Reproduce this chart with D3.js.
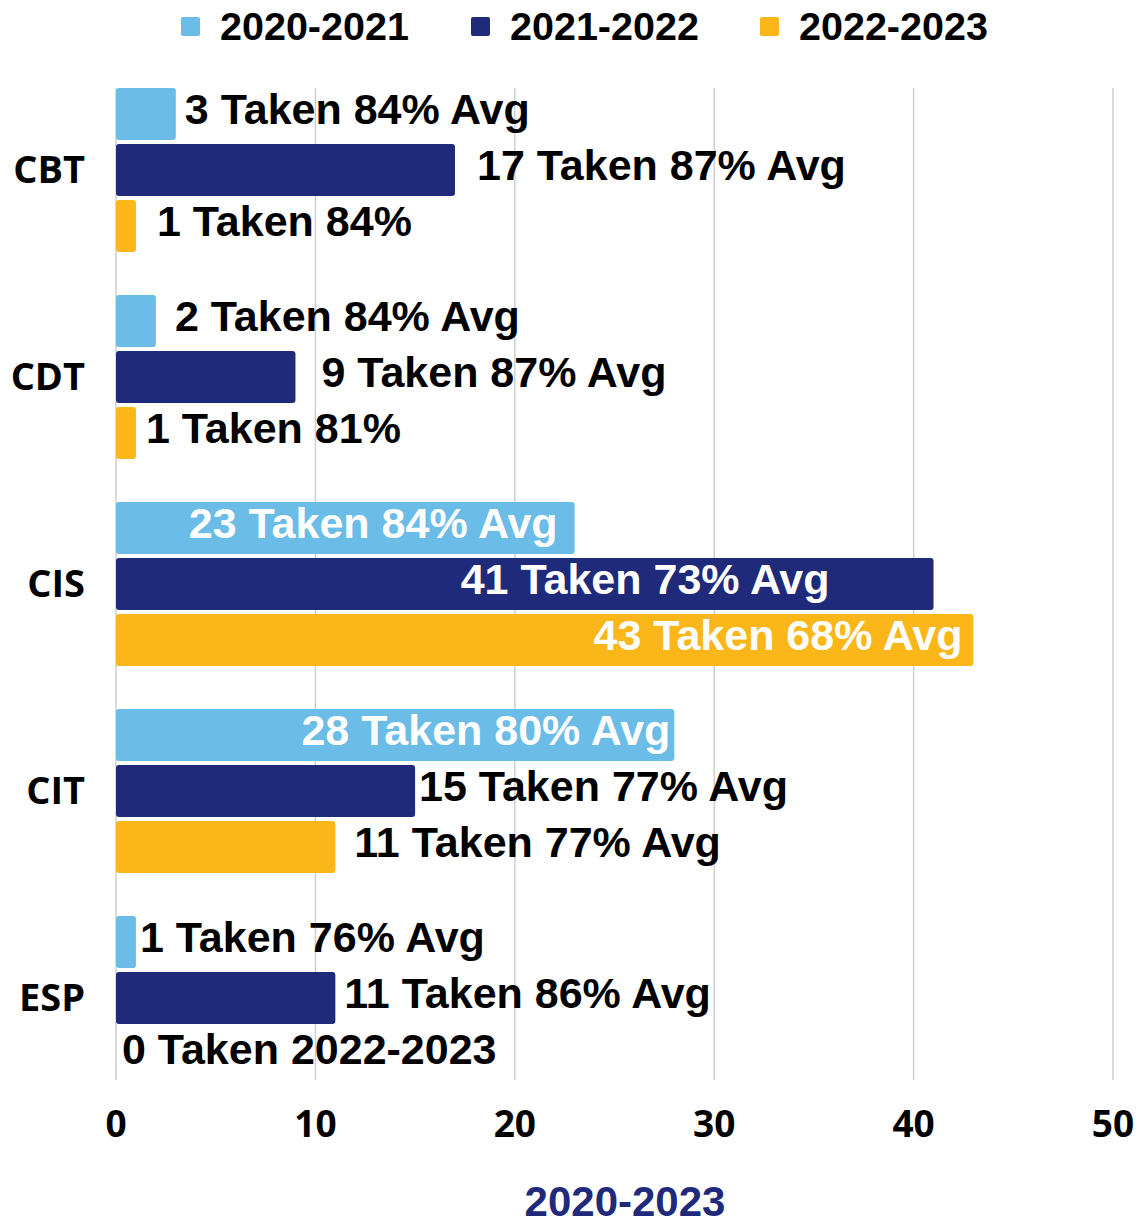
<!DOCTYPE html>
<html>
<head>
<meta charset="utf-8">
<script src="https://cdn.jsdelivr.net/npm/d3@7"></script>
<style>
  body { margin: 0; background: #fff; }
  text { font-family: "Liberation Sans", Arial, sans-serif; font-weight: bold; }
</style>
</head>
<body>
<script>
const categories = ["CBT", "CDT", "CIS", "CIT", "ESP"];
const seriesNames = ["2020-2021", "2021-2022", "2022-2023"];
const taken2020 = [3, 2, 23, 28, 1];
const taken2021 = [17, 9, 41, 15, 11];
const taken2022 = [1, 1, 43, 11, 0];
const labels2020 = ["3 Taken 84% Avg", "2 Taken 84% Avg", "23 Taken 84% Avg", "28 Taken 80% Avg", "1 Taken 76% Avg"];
const labels2021 = ["17 Taken 87% Avg", "9 Taken 87% Avg", "41 Taken 73% Avg", "15 Taken 77% Avg", "11 Taken 86% Avg"];
const labels2022 = ["1 Taken 84%", "1 Taken 81%", "43 Taken 68% Avg", "11 Taken 77% Avg", "0 Taken 2022-2023"];
const xTicks = [0, 10, 20, 30, 40, 50];
const chartTitle = "2020-2023";

const colors = ["#6bbce6", "#1f2a7a", "#fbb71a"];
// label nudges from bar end (negative = inside, right aligned)
const labelDx = [
  [9, 19, -17, -4, 4],
  [22, 26, -104, 4, 9],
  [21, 10, -11, 19, 6]
];

const W = 1139, H = 1224;
const svg = d3.select("body").append("svg").attr("width", W).attr("height", H);

const x = d3.scaleLinear().domain([0, 50]).range([116, 1113]);
const y = d3.scaleBand().domain(categories).range([88, 1080]).paddingInner(0.2077).paddingOuter(0);
const ySub = d3.scaleBand().domain(seriesNames).range([0, y.bandwidth()]).paddingInner(0.0714);

const series = [taken2020, taken2021, taken2022];
const seriesLabels = [labels2020, labels2021, labels2022];

// grid
svg.append("g").selectAll("line").data(xTicks).enter().append("line")
  .attr("x1", d => x(d)).attr("x2", d => x(d))
  .attr("y1", 88).attr("y2", 1080)
  .attr("stroke", "#cfcfcf").attr("stroke-width", 1.5);

// x tick labels
svg.append("g").selectAll("text").data(xTicks).enter().append("text")
  .attr("x", d => x(d)).attr("y", 1137)
  .attr("text-anchor", "middle")
  .style("font-family", "'Open Sans', sans-serif")
  .style("font-size", "37px")
  .text(d => d);

// category labels
svg.append("g").selectAll("text").data(categories).enter().append("text")
  .attr("x", 85).attr("y", d => y(d) + y.bandwidth() / 2 + 13)
  .attr("text-anchor", "end")
  .style("font-family", "'Open Sans', sans-serif")
  .style("font-size", "38px")
  .text(d => d);

const rows = [];
categories.forEach((c, i) => {
  seriesNames.forEach((s, j) => {
    rows.push({ cat: c, s: s, j: j, v: series[j][i], label: seriesLabels[j][i], dx: labelDx[j][i] });
  });
});

svg.append("g").selectAll("rect").data(rows.filter(d => d.v > 0)).enter().append("rect")
  .attr("x", x(0))
  .attr("y", d => y(d.cat) + ySub(d.s))
  .attr("width", d => x(d.v) - x(0))
  .attr("height", ySub.bandwidth())
  .attr("rx", 3)
  .attr("fill", d => colors[d.j]);

svg.append("g").selectAll("text").data(rows).enter().append("text")
  .attr("x", d => x(d.v) + d.dx)
  .attr("y", d => y(d.cat) + ySub(d.s) + ySub.bandwidth() / 2 + 10)
  .attr("text-anchor", d => d.dx < 0 ? "end" : "start")
  .attr("fill", d => d.dx < 0 ? "#fff" : "#000")
  .style("font-size", "43px")
  .text(d => d.label);

// legend
const legendX = [181, 471, 760];
const legend = svg.append("g").selectAll("g").data(seriesNames).enter().append("g");
legend.append("rect")
  .attr("x", (d, i) => legendX[i]).attr("y", 17)
  .attr("width", 19).attr("height", 19).attr("rx", 2)
  .attr("fill", (d, i) => colors[i]);
legend.append("text")
  .attr("x", (d, i) => legendX[i] + 39).attr("y", 40)
  .style("font-size", "39.5px")
  .text(d => d);

// title
svg.append("text")
  .attr("x", 625).attr("y", 1216)
  .attr("text-anchor", "middle")
  .attr("fill", "#1f2a7a")
  .style("font-size", "42px")
  .text(chartTitle);
</script>
</body>
</html>
